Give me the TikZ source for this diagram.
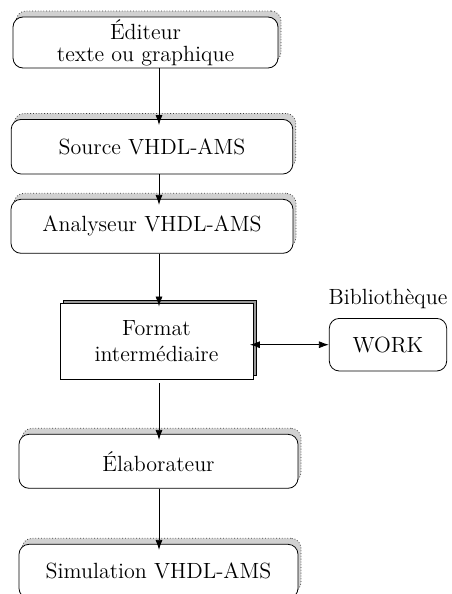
\documentclass[tikz,border=0pt]{standalone}
\usepackage{fontspec}
\usetikzlibrary{shadows,arrows.meta}

\tikzset{
  etape/.style={draw, rounded corners=5pt, fill=white, font=\fontsize{11}{13}\selectfont, align=center, inner sep=0pt,
    copy shadow={shadow xshift=1.5pt, shadow yshift=3pt, fill=black!18, draw=black!75, densely dotted}},
  format/.style={draw, fill=white, font=\fontsize{11}{13}\selectfont, align=center, inner sep=0pt,
    copy shadow={shadow xshift=1.75pt, shadow yshift=1.75pt, fill=black!40, draw=black}},
  biblio/.style={draw, rounded corners=5pt, font=\fontsize{11}{13}\selectfont, inner sep=0pt},
  fleche/.style={-{Latex[length=5pt,width=3.5pt]}},
  doublefleche/.style={{Latex[length=5pt,width=3.5pt]}-{Latex[length=5pt,width=3.5pt]}},
}

\begin{document}
\begin{tikzpicture}[x=0.5pt, y=-0.5pt]
  \useasboundingbox (0,0) rectangle (451,594);
  \coordinate (axe) at (159,0);

  % chaine de compilation
  \node[etape, minimum width=132.5pt, minimum height=25.5pt] (editeur) at (145.5,42.5) {Éditeur\\[-1.8pt]texte ou graphique};
  \node[etape, minimum width=140.8pt, minimum height=27.3pt] (source) at (152,146.7) {Source VHDL-AMS};
  \node[etape, minimum width=141pt, minimum height=27pt] (analyseur) at (152,226.3) {Analyseur VHDL-AMS};
  \node[format, minimum width=96.5pt, minimum height=37.8pt] (format) at (156.5,341.2) {Format\\intermédiaire};
  \node[etape, minimum width=139.5pt, minimum height=27pt] (elabo) at (158.5,461.3) {Élaborateur};
  \node[etape, minimum width=139.5pt, minimum height=27pt] (simul) at (158.5,571.3) {Simulation VHDL-AMS};

  % bibliotheque
  \node[biblio, minimum width=58.7pt, minimum height=26.3pt] (work) at (388,344.7) {WORK};
  \node[font=\fontsize{11}{13}\selectfont, inner sep=0pt] (bibtitre) at (388,299) {Bibliothèque};

  \draw[fleche, shorten >=-3pt] (editeur.south -| axe) -- (source.north -| axe);
  \draw[fleche, shorten >=-3pt] (source.south -| axe) -- (analyseur.north -| axe);
  \draw[fleche, shorten >=-1.75pt] (analyseur.south -| axe) -- (format.north -| axe);
  \draw[fleche, shorten >=-3pt, shorten <=2pt] (format.south -| axe) -- (elabo.north -| axe);
  \draw[fleche, shorten >=-3pt] (elabo.south -| axe) -- (simul.north -| axe);
  \draw[doublefleche, shorten <=-1.75pt] (format.east |- work.west) -- (work.west);
\end{tikzpicture}
\end{document}
